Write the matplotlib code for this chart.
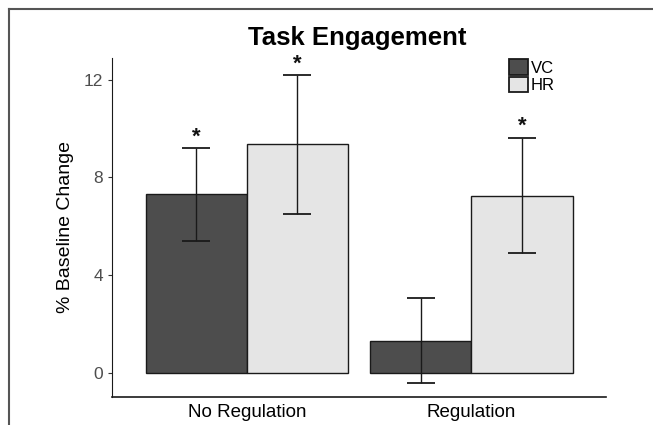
import numpy as np
import matplotlib.pyplot as plt
from matplotlib.lines import Line2D

plt.rcParams['font.family'] = ['Liberation Sans', 'DejaVu Sans']

conditions = ["No Regulation", "Regulation"]
groups = ["VC", "HR"]
means = {"VC": [7.33, 1.31], "HR": [9.38, 7.25]}
err_hi = {"VC": [9.22, 3.07], "HR": [12.2, 9.63]}
err_lo = {"VC": [5.41, -0.41], "HR": [6.5, 4.88]}
signif = {"VC": [True, False], "HR": [True, True]}
colors = {"VC": "#4d4d4d", "HR": "#e5e5e5"}

fig = plt.figure(figsize=(6.53, 4.25), dpi=100)
ax = fig.add_axes([0.1715, 0.066, 0.757, 0.798])

x = np.arange(1, len(conditions) + 1)
width = 0.45
for i, g in enumerate(groups):
    pos = x + (i - 0.5) * width
    m = np.array(means[g])
    lo = m - np.array(err_lo[g])
    hi = np.array(err_hi[g]) - m
    ax.bar(pos, m, width, color=colors[g], edgecolor="#1a1a1a", linewidth=1.0,
           label=g, zorder=2)
    ax.errorbar(pos, m, yerr=[lo, hi], fmt="none", ecolor="#1a1a1a",
                elinewidth=1.0, capsize=10, capthick=1.3, zorder=3)
    for p, top, s in zip(pos, err_hi[g], signif[g]):
        if s:
            # asterisk glyph sits high, so a baseline near the cap puts it just above
            ax.text(p, top + 0.22, "*", ha="center", va="baseline", fontsize=16,
                    fontweight="bold", color="#111111")

ax.set_xlim(0.4, 2.6)
ax.set_ylim(-1.0, 12.9)
ax.set_yticks([0, 4, 8, 12])
ax.set_xticks(x)
ax.set_xticklabels(conditions, fontsize=13.5, color="black")
ax.tick_params(axis="y", labelsize=12.5, labelcolor="#4d4d4d", length=3,
               color="#333333")
ax.tick_params(axis="x", length=0, pad=5)
ax.spines["top"].set_visible(False)
ax.spines["right"].set_visible(False)
ax.spines["left"].set_color("#1a1a1a")
ax.spines["bottom"].set_color("#1a1a1a")
ax.spines["bottom"].set_linewidth(1.2)
ax.set_ylabel("% Baseline Change", fontsize=14, labelpad=7)

fig.text(0.547, 0.91, "Task Engagement", ha="center", va="center",
         fontsize=18.5, fontweight="bold")

leg = ax.legend(loc="upper left", bbox_to_anchor=(0.79, 1.015), frameon=False,
                fontsize=12, handlelength=1.15, handleheight=1.05,
                handletextpad=0.15, labelspacing=0.05, borderaxespad=0)
for h in leg.legend_handles:
    h.set_edgecolor("#1a1a1a")
    h.set_linewidth(1.3)

# image frame
fig.add_artist(Line2D([9 / 653, 9 / 653], [0, 1 - 9 / 425],
                      color="#555555", lw=1.5, transform=fig.transFigure))
fig.add_artist(Line2D([9 / 653, 1], [1 - 9 / 425, 1 - 9 / 425],
                      color="#555555", lw=1.5, transform=fig.transFigure))

fig.savefig("out.png", dpi=100)
